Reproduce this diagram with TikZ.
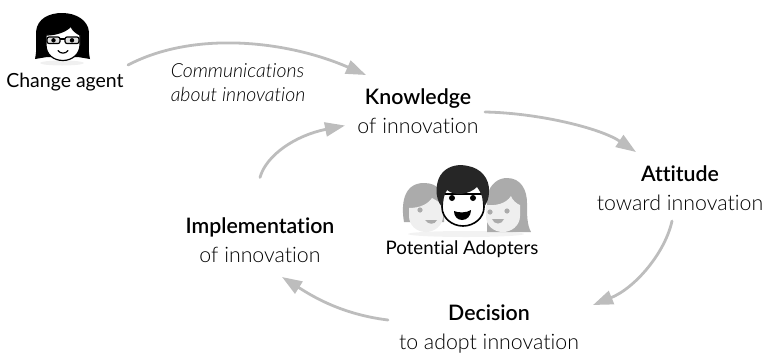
\documentclass[tikz,border=0pt]{standalone}
\usepackage{fontspec}
\setmainfont{Lato Light}[BoldFont={Lato Semibold},ItalicFont={Lato Light Italic},Ligatures=NoCommon]
\newfontfamily\regfont{Lato}[Ligatures=NoCommon]
\usetikzlibrary{arrows.meta}
\definecolor{flowgray}{HTML}{BDBDBD}
\definecolor{softhair}{HTML}{ABABAB}
\definecolor{softface}{HTML}{EFEFEF}
\tikzset{
  x=0.75pt,y=-0.75pt,
  flow/.style={draw=flowgray,line width=2.1pt,line cap=round,-{Triangle[length=15pt,width=10.5pt,fill=flowgray]}},
  stagebox/.style={align=center,inner sep=0pt,font=\fontsize{16}{21.7}\selectfont},
  lbl/.style={inner sep=0pt,font=\fontsize{14.6}{16}\selectfont\regfont},
}
\begin{document}
\begin{tikzpicture}
\useasboundingbox (0,0) rectangle (767,354);
% shadows
\fill[black!6] (62,63) ellipse (22 and 2.5);
\fill[black!5] (466,234) ellipse (58 and 3);
% change agent face
\fill[black] (35,59) .. controls (37,50) and (36,40) .. (36,32) .. controls (37,18) and (50,13) .. (62,13) .. controls (76,13) and (88,20) .. (89,32) .. controls (89,42) and (88,50) .. (90,59) -- (78,57) -- (47,57) -- cycle;
\filldraw[fill=white,draw=black,line width=0.9pt] (46,35) .. controls (55,35) and (66,32) .. (71,26) .. controls (72,30) and (76,33) .. (80,35) -- (80,45) .. controls (80,54) and (72,60.5) .. (63,60.5) .. controls (53,60.5) and (46,54) .. (46,45) -- cycle;
\draw[black,line width=0.9pt,fill=gray!25,rounded corners=1.5pt] (47,37) rectangle (60,43.5);
\draw[black,line width=0.9pt,fill=gray!25,rounded corners=1.5pt] (65,37) rectangle (79,43.5);
\draw[black,line width=0.9pt] (60,39) -- (65,39);
\fill[black] (53.5,40.3) circle (2.2);
\fill[black] (72,40.3) circle (2.2);
\draw[black,line width=0.9pt,line cap=round] (58,50.5) .. controls (60,54) and (66,54) .. (68,50.5);
% left adopter
\fill[softhair] (404,222) .. controls (401,205) and (403,183) .. (424,183) .. controls (438,183) and (444,192) .. (444,205) -- (444,222) -- cycle;
\fill[softface] (409,208) .. controls (420,208) and (428,204) .. (432,198) .. controls (436,200) and (440,203) .. (443,205) -- (443,216) .. controls (443,226) and (434,232) .. (426,232) .. controls (416,232) and (409,225) .. (409,216) -- cycle;
\fill[softhair] (420,210) circle (2.6);
\fill[softhair] (425,220) .. controls (428,225) and (435,225) .. (437,220) -- cycle;
% right adopter
\fill[softhair] (487,196) .. controls (490,184) and (498,178) .. (507,178) .. controls (521,178) and (527,190) .. (527,203) .. controls (527,215) and (527,225) .. (531,232) -- (487,232) -- cycle;
\fill[softface] (486,205) .. controls (495,206) and (506,204) .. (511,196) .. controls (512,200) and (517,204) .. (520,205) -- (520,216) .. controls (520,226) and (511,232) .. (503,232) .. controls (494,232) and (486,226) .. (486,216) -- cycle;
\fill[softhair] (490,212) circle (2.6);
\fill[softhair] (507,211) circle (2.6);
\fill[softhair] (492,219) .. controls (494,225) and (502,225) .. (504,219) -- cycle;
% centre adopter
\filldraw[fill=white,draw=black,line width=1.2pt] (443,194) -- (483,194) -- (484,207) .. controls (484,218) and (474,226) .. (463,226) .. controls (452,226) and (442,218) .. (442,207) -- cycle;
\fill[black!85] (442,207) .. controls (434,198) and (435,180) .. (443,172) .. controls (450,165) and (460,164) .. (468,166) .. controls (480,168) and (490,178) .. (489,192) .. controls (489,198) and (487,203) .. (484,207) .. controls (483,198) and (481,192) .. (477,187) .. controls (470,194) and (455,197) .. (447,190) .. controls (444,195) and (443,200) .. (442,207) -- cycle;
\fill[black] (452,198) circle (3);
\fill[black] (473,198) circle (3);
\fill[black] (454,211) .. controls (458,213) and (467,213) .. (471,210) .. controls (471,216) and (467,220) .. (462,220) .. controls (457,220) and (454,216) .. (454,211) -- cycle;
% labels and stages
\node[lbl] (agent) at (65,82) {Change agent};
\node[inner sep=0pt,font=\fontsize{14.6}{18}\selectfont\itshape,align=left] (comm) at (238,83) {Communications\\about innovation};
\node[stagebox] (know) at (418,111) {\textbf{Knowledge}\\of innovation};
\node[stagebox] (att) at (680,188) {\textbf{Attitude}\\toward innovation};
\node[stagebox] (dec) at (489,329) {\textbf{Decision}\\to adopt innovation};
\node[stagebox] (impl) at (260,240.5) {\textbf{Implementation}\\of innovation};
\node[lbl,font=\fontsize{14}{16}\selectfont\regfont] (adopters) at (462,249) {Potential Adopters};
% connectors
\draw[flow] ([shift={(63,-17)}]agent.center) .. controls ([shift={(130,-52)}]agent.center) and ([shift={(-130,-70)}]know.center) .. ([shift={(-52,-36)}]know.center);
\draw[flow] ([shift={(67,1)}]know.center) .. controls ([shift={(120,2)}]know.center) and ([shift={(-80,-60)}]att.center) .. ([shift={(-44,-36)}]att.center);
\draw[flow] ([shift={(-8,33)}]att.center) .. controls ([shift={(-15,65)}]att.center) and ([shift={(-45,100)}]att.center) .. ([shift={(-87,117)}]att.center);
\draw[flow] ([shift={(-101,-9)}]dec.center) .. controls ([shift={(-150,-15)}]dec.center) and ([shift={(-180,-35)}]dec.center) .. ([shift={(-207,-52)}]dec.center);
\draw[flow] ([shift={(0,-63)}]impl.center) .. controls ([shift={(6,-85)}]impl.center) and ([shift={(35,-105)}]impl.center) .. ([shift={(85,-115)}]impl.center);
\end{tikzpicture}
\end{document}
